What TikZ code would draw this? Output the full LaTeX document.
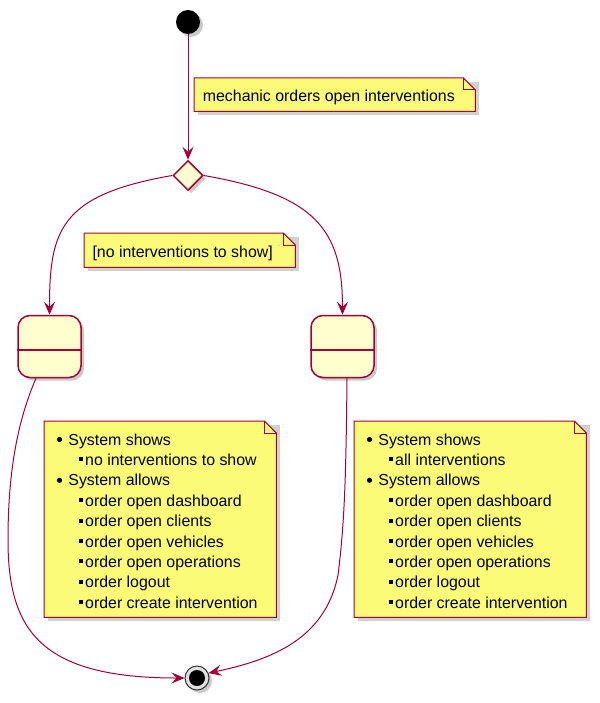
\documentclass[tikz,border=0pt]{standalone}
\usepackage{fontspec}
\setmainfont{Liberation Sans}
\usetikzlibrary{shapes.geometric,arrows.meta,shadows}
\definecolor{puborder}{HTML}{A80036}
\definecolor{pustate}{HTML}{FEFECE}
\definecolor{punote}{HTML}{FBFB77}
\tikzset{
 pushadow/.style={drop shadow={shadow xshift=3pt,shadow yshift=-3pt,opacity=0.35,fill=black!60}},
 statebox/.style={draw=puborder,fill=pustate,line width=1.5pt,rounded corners=12pt,minimum width=63pt,minimum height=62pt,inner sep=0pt,pushadow},
 choice/.style={diamond,draw=puborder,fill=pustate,line width=1.5pt,minimum width=30pt,minimum height=30pt,inner sep=0pt,pushadow},
 startdot/.style={circle,fill=black,minimum size=24pt,inner sep=0pt,pushadow},
 endring/.style={circle,draw=black!80,fill=black!12,line width=1pt,minimum size=24pt,inner sep=0pt,pushadow},
 enddot/.style={circle,fill=black,minimum size=16pt,inner sep=0pt},
 flow/.style={draw=puborder,line width=1pt,-{Stealth[length=13pt,width=11pt,inset=5pt]}},
 noteframe/.style={draw=puborder,fill=punote,line width=1pt},
 notecorner/.style={draw=puborder,line width=1pt},
 noteshadow/.style={fill=black!60,opacity=0.3},
 notearea/.style={inner sep=0pt,anchor=north west},
 txt/.style={inner sep=0pt,anchor=base west,font=\fontsize{15.9pt}{19pt}\selectfont},
}
\newcommand\drawnotebox[1]{%
 \fill[noteshadow] ([xshift=4pt,yshift=-4pt]#1.north west) -- ([xshift=4pt,yshift=-4pt]#1.north east) -- ([xshift=4pt,yshift=-4pt]#1.south east) -- ([xshift=4pt,yshift=-4pt]#1.south west) -- cycle;
 \draw[noteframe] (#1.north west) -- ([xshift=-12pt]#1.north east) -- ([yshift=-12pt]#1.north east) -- (#1.south east) -- (#1.south west) -- cycle;
 \draw[notecorner] ([xshift=-12pt]#1.north east) -- ([xshift=-12pt,yshift=-12pt]#1.north east) -- ([yshift=-12pt]#1.north east);
}
\newcommand\bulletmain[4]{\fill (#1+15.5,#2-5.5) circle[radius=2.6pt]; \node[txt] (#4) at (#1+24.2,#2) {#3};}
\newcommand\bulletsub[4]{\fill (#1+34.5,#2-8) rectangle (#1+38.5,#2-4); \node[txt] (#4) at (#1+41,#2) {#3};}
\begin{document}
\begin{tikzpicture}[x=1pt,y=-1pt]
\useasboundingbox (0,0) rectangle (599,703);
% nodes
\node[startdot] (start) at (188,22) {};
\node[choice] (choice) at (188,175.5) {};
\node[statebox] (s1) at (49.5,346.5) {};
\draw[draw=puborder,line width=1.5pt] ([yshift=-35pt]s1.north west) -- ([yshift=-35pt]s1.north east);
\node[statebox] (s2) at (342.5,346.5) {};
\draw[draw=puborder,line width=1.5pt] ([yshift=-35pt]s2.north west) -- ([yshift=-35pt]s2.north east);
\node[endring] (stop) at (197,678) {};
\node[enddot] (stopin) at (stop) {};
% notes
\node[notearea,minimum width=281pt,minimum height=33pt] (n1) at (194,78) {};
\drawnotebox{n1}
\node[txt] (n1t) at (202.7,101.7) {mechanic orders open interventions};
\node[notearea,minimum width=211pt,minimum height=34pt] (n2) at (84,233) {};
\drawnotebox{n2}
\node[txt] (n2t) at (92.3,257.3) {[no interventions to show]};
\node[notearea,minimum width=232pt,minimum height=196pt] (n3) at (44,421) {};
\drawnotebox{n3}
\bulletmain{44}{445}{System shows}{n3a}
\bulletsub{44}{465.4}{no interventions to show}{n3b}
\bulletmain{44}{485.8}{System allows}{n3c}
\bulletsub{44}{506.2}{order open dashboard}{n3d}
\bulletsub{44}{526.6}{order open clients}{n3e}
\bulletsub{44}{547}{order open vehicles}{n3f}
\bulletsub{44}{567.4}{order open operations}{n3g}
\bulletsub{44}{587.8}{order logout}{n3h}
\bulletsub{44}{608.2}{order create intervention}{n3i}
\node[notearea,minimum width=232pt,minimum height=196pt] (n4) at (354,421) {};
\drawnotebox{n4}
\bulletmain{354}{445}{System shows}{n4a}
\bulletsub{354}{465.4}{all interventions}{n4b}
\bulletmain{354}{485.8}{System allows}{n4c}
\bulletsub{354}{506.2}{order open dashboard}{n4d}
\bulletsub{354}{526.6}{order open clients}{n4e}
\bulletsub{354}{547}{order open vehicles}{n4f}
\bulletsub{354}{567.4}{order open operations}{n4g}
\bulletsub{354}{587.8}{order logout}{n4h}
\bulletsub{354}{608.2}{order create intervention}{n4i}
% connectors
\draw[flow] (start) -- (choice);
\draw[flow] (choice.west) .. controls (60,195) and (49.5,230) .. (s1.north);
\draw[flow] (choice.east) .. controls (316,195) and (342.5,230) .. (s2.north);
\draw[flow] ([xshift=-13.5pt]s1.south) .. controls (18,420) and (8,470) .. (8,540) .. controls (8,630) and (40,678) .. (stop.west);
\draw[flow] ([xshift=4.5pt]s2.south) .. controls (346,470) and (345,520) .. (338,575) .. controls (325,640) and (270,660) .. (stop.23);
\end{tikzpicture}
\end{document}
